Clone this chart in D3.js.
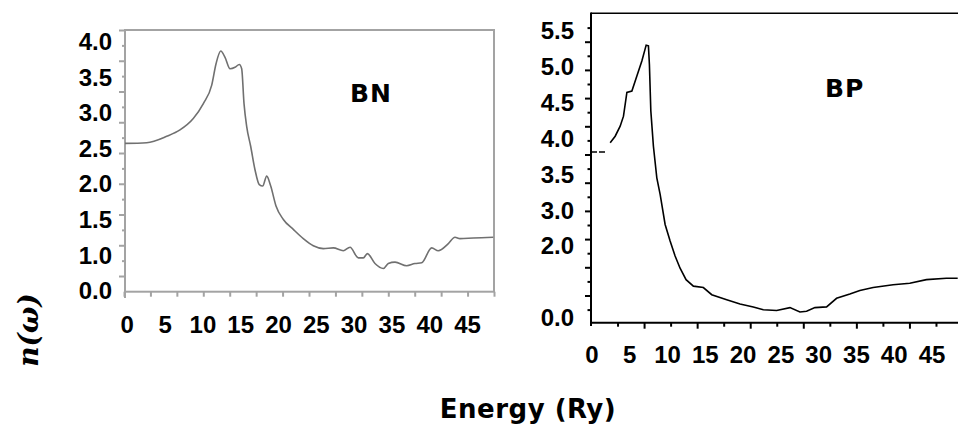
<!DOCTYPE html>
<html>
<head>
<meta charset="utf-8">
<script src="https://cdn.jsdelivr.net/npm/d3@7"></script>
<style>
  body { margin: 0; background: #fff; }
  svg { display: block; }
</style>
</head>
<body>
<div id="chart"></div>
<script>
// BN panel
let bnEnergy = [-0.3, 2.57, 5.21, 6.97, 8.73, 10.06, 11.17, 11.74, 12.36, 12.93, 13.59, 14.25, 14.82, 15.13, 15.44, 15.79,
    16.32, 16.89, 17.46, 17.91, 18.44, 18.97, 19.67, 20.64, 21.96, 23.28, 24.6, 25.93, 27.25, 28.57, 29.46, 30.56,
    31.22, 31.75, 32.76, 33.86, 34.52, 35.41, 36.95, 38.04, 38.93, 40.26, 41.13, 42.46, 43.34, 44.0, 45.77, 48.4];
let bnN = [2.57, 2.58, 2.67, 2.76, 2.92, 3.13, 3.39, 3.69, 3.87, 3.78, 3.62, 3.64, 3.68, 3.62, 3.13, 2.81,
    2.53, 2.20, 1.99, 1.97, 2.11, 1.97, 1.69, 1.50, 1.36, 1.23, 1.13, 1.09, 1.10, 1.06, 1.11, 0.96,
    0.96, 1.02, 0.88, 0.81, 0.88, 0.90, 0.85, 0.88, 0.89, 1.10, 1.06, 1.16, 1.25, 1.23, 1.24, 1.25];

// BP panel
let bpDashEnergy = [-0.13, 1.75];
let bpDashN = [3.81, 3.81];
let bpEnergy = [2.41, 3.07, 3.73, 4.17, 4.62, 5.28, 5.94, 6.6, 7.17, 7.47, 7.6, 7.79, 8.13, 8.58, 9.02, 9.68,
    10.34, 11.0, 11.66, 12.45, 13.42, 14.74, 15.85, 17.83, 19.59, 21.35, 22.67, 24.44, 26.2, 27.52, 28.4,
    29.5, 31.05, 32.37, 34.13, 35.45, 37.21, 39.85, 42.06, 44.26, 46.9, 48.4];
let bpN = [3.94, 4.03, 4.17, 4.31, 4.64, 4.66, 4.87, 5.08, 5.30, 5.29, 5.03, 4.38, 3.89, 3.45, 3.22, 2.80,
    2.57, 2.36, 2.19, 2.03, 1.94, 1.92, 1.82, 1.75, 1.69, 1.65, 1.61, 1.60, 1.64, 1.58, 1.59,
    1.64, 1.65, 1.77, 1.83, 1.88, 1.92, 1.96, 1.98, 2.03, 2.05, 2.05];

// tick labels (the printed labels sit where they sit, not on the original ticks)
let xTickValues = [0, 5, 10, 15, 20, 25, 30, 35, 40, 45];
let bnYTickValues = [4.0, 3.5, 3.0, 2.5, 2.0, 1.5, 1.0, 0.5];
let bnYTickLabels = ["4.0", "3.5", "3.0", "2.5", "2.0", "1.5", "1.0", "0.0"];
let bpYTickValues = [5.5, 5.0, 4.5, 4.0, 3.5, 3.0, 2.5, 1.5];
let bpYTickLabels = ["5.5", "5.0", "4.5", "4.0", "3.5", "3.0", "2.0", "0.0"];

let width = 958;
let height = 425;
let labelFont = "Liberation Sans, Arial, sans-serif";
let titleFont = "DejaVu Sans, Verdana, sans-serif";

let svg = d3.select("#chart")
    .append("svg")
    .attr("width", width)
    .attr("height", height);

svg.append("rect").attr("width", width).attr("height", height).attr("fill", "#fff");

function tickLabels(sel) {
    sel.attr("font-family", labelFont)
        .attr("font-weight", "700")
        .attr("font-size", "24px")
        .attr("fill", "#000");
}

// ---------- BN ----------
let bnX = d3.scaleLinear().domain([-0.3, 48.5]).range([125, 494]);
let bnY = d3.scaleLinear().domain([0.484, 4.165]).range([291.7, 30]);
// the original graph's own tick marks
let bnXTicks = d3.scaleLinear().domain([0, 14]).range([124, 494]);
let bnYTicks = d3.scaleLinear().domain([0, 8.5]).range([30, 291.4]);

let gray = "#a3a3a3";

// frame
svg.append("rect")
    .attr("x", 125).attr("y", 30)
    .attr("width", 494 - 125).attr("height", 291.7 - 30)
    .attr("fill", "none")
    .attr("stroke", gray)
    .attr("stroke-width", 2);

svg.append("g")
    .attr("transform", "translate(0,291.7)")
    .call(d3.axisBottom(bnXTicks).tickValues(d3.range(0, 15)).tickSize(5).tickFormat(""))
    .call(g => g.select(".domain").remove())
    .selectAll("line").attr("stroke", gray).attr("stroke-width", 2);

svg.append("g")
    .attr("transform", "translate(125,0)")
    .call(d3.axisLeft(bnYTicks).tickValues(d3.range(0, 8.5, 0.5)).tickSize(5).tickFormat(""))
    .call(g => g.select(".domain").remove())
    .selectAll("line")
    .attr("x2", d => d % 1 === 0 ? -6 : -3)
    .attr("stroke", gray).attr("stroke-width", 2);

svg.append("line")
    .attr("x1", 125).attr("x2", 125).attr("y1", 291).attr("y2", 298)
    .attr("stroke", gray).attr("stroke-width", 2);

let bnLine = d3.line()
    .x(d => bnX(d[0]))
    .y(d => bnY(d[1]))
    .curve(d3.curveMonotoneX);

svg.append("path")
    .datum(d3.zip(bnEnergy, bnN))
    .attr("d", bnLine)
    .attr("fill", "none")
    .attr("stroke", "#707070")
    .attr("stroke-width", 1.6);

svg.selectAll("text.bn-y")
    .data(bnYTickValues)
    .enter()
    .append("text")
    .attr("class", "bn-y")
    .call(tickLabels)
    .attr("x", 112)
    .attr("y", d => bnY(d) + 8.5)
    .attr("text-anchor", "end")
    .text((d, i) => bnYTickLabels[i]);

svg.selectAll("text.bn-x")
    .data(xTickValues)
    .enter()
    .append("text")
    .attr("class", "bn-x")
    .call(tickLabels)
    .attr("x", d => bnX(d))
    .attr("y", 333)
    .attr("text-anchor", "middle")
    .text(d => d);

svg.append("text")
    .attr("x", 350).attr("y", 101.5)
    .attr("font-family", titleFont)
    .attr("font-weight", "bold")
    .attr("font-size", "25px")
    .attr("letter-spacing", "1px")
    .text("BN");

// ---------- BP ----------
let bpX = d3.scaleLinear().domain([-0.13, 48.44]).range([591, 958]);
let bpY = d3.scaleLinear().domain([1.43, 5.744]).range([322.7, 13.3]);
let bpXTicks = d3.scaleLinear().domain([0, 13.83]).range([591, 958]);
let bpYTicks = d3.scaleLinear().domain([0, 22]).range([13.5, 323.7]);

svg.append("line")
    .attr("x1", 591).attr("x2", 958).attr("y1", 13.3).attr("y2", 13.3)
    .attr("stroke", "#000").attr("stroke-width", 1.5);
svg.append("line")
    .attr("x1", 591).attr("x2", 591).attr("y1", 12.5).attr("y2", 326)
    .attr("stroke", "#000").attr("stroke-width", 2);
svg.append("line")
    .attr("x1", 590).attr("x2", 958).attr("y1", 322.7).attr("y2", 322.7)
    .attr("stroke", "#000").attr("stroke-width", 2);

svg.append("g")
    .attr("transform", "translate(0,322.7)")
    .call(d3.axisBottom(bpXTicks).tickValues(d3.range(1, 14)).tickSize(5).tickFormat(""))
    .call(g => g.select(".domain").remove())
    .selectAll("line")
    .attr("y2", d => d % 2 === 0 ? 6 : 4)
    .attr("stroke", "#000").attr("stroke-width", 2);

svg.append("g")
    .attr("transform", "translate(591,0)")
    .call(d3.axisLeft(bpYTicks).tickValues(d3.range(1, 22)).tickSize(5).tickFormat(""))
    .call(g => g.select(".domain").remove())
    .selectAll("line")
    .attr("x2", d => d % 2 === 0 ? -6 : -3.5)
    .attr("stroke", "#000").attr("stroke-width", 2);

let bpLine = d3.line()
    .x(d => bpX(d[0]))
    .y(d => bpY(d[1]));

svg.append("path")
    .datum(d3.zip(bpDashEnergy, bpDashN))
    .attr("d", bpLine)
    .attr("fill", "none")
    .attr("stroke", "#000")
    .attr("stroke-width", 1.5)
    .attr("stroke-dasharray", "6,2");

svg.append("path")
    .datum(d3.zip(bpEnergy, bpN))
    .attr("d", bpLine)
    .attr("fill", "none")
    .attr("stroke", "#000")
    .attr("stroke-width", 1.6);

svg.selectAll("text.bp-y")
    .data(bpYTickValues)
    .enter()
    .append("text")
    .attr("class", "bp-y")
    .call(tickLabels)
    .attr("x", 574)
    .attr("y", d => bpY(d) + 8.5)
    .attr("text-anchor", "end")
    .text((d, i) => bpYTickLabels[i]);

svg.selectAll("text.bp-x")
    .data(xTickValues)
    .enter()
    .append("text")
    .attr("class", "bp-x")
    .call(tickLabels)
    .attr("x", d => bpX(d))
    .attr("y", 363)
    .attr("text-anchor", "middle")
    .text(d => d);

svg.append("text")
    .attr("x", 825).attr("y", 96.7)
    .attr("font-family", titleFont)
    .attr("font-weight", "bold")
    .attr("font-size", "25px")
    .attr("letter-spacing", "1px")
    .text("BP");

// ---------- shared axis titles ----------
svg.append("text")
    .attr("x", 528).attr("y", 418)
    .attr("text-anchor", "middle")
    .attr("font-family", titleFont)
    .attr("font-weight", "bold")
    .attr("font-size", "26px")
    .attr("letter-spacing", "0.5px")
    .text("Energy (Ry)");

svg.append("text")
    .attr("transform", "translate(38,330) rotate(-90)")
    .attr("text-anchor", "middle")
    .attr("font-family", "DejaVu Serif, serif")
    .attr("font-weight", "bold")
    .attr("font-style", "italic")
    .attr("font-size", "28px")
    .text("n(ω)");
</script>
</body>
</html>
